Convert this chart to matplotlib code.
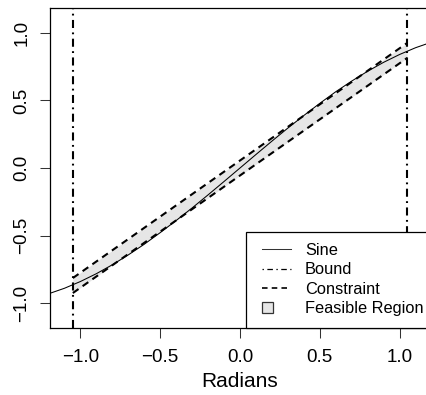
import matplotlib
matplotlib.use("Agg")
import matplotlib.pyplot as plt
from matplotlib.lines import Line2D
from matplotlib.patches import Rectangle
from matplotlib.legend_handler import HandlerPatch

# values
sine_x = [-1.2, -1.1, -1.0, -0.9, -0.8, -0.7, -0.6, -0.5, -0.4, -0.3, -0.2, -0.1, 0.0,
          0.1, 0.2, 0.3, 0.4, 0.5, 0.6, 0.7, 0.8, 0.9, 1.0, 1.1, 1.2]
sine_y = [-0.932, -0.891, -0.841, -0.783, -0.717, -0.644, -0.565, -0.479, -0.389, -0.296,
          -0.199, -0.100, 0.0, 0.100, 0.199, 0.296, 0.389, 0.479, 0.565, 0.644, 0.717,
          0.783, 0.841, 0.891, 0.932]
bounds = [-1.047, 1.047]
constraint_x = [-1.047, 1.047]
constraint_upper = [-0.815, 0.926]
constraint_lower = [-0.926, 0.815]
xticks = [-1.0, -0.5, 0.0, 0.5, 1.0]
yticks = [-1.0, -0.5, 0.0, 0.5, 1.0]
labels = ["Sine", "Bound", "Constraint", "Feasible Region"]

plt.rcParams["font.family"] = ["Liberation Sans", "DejaVu Sans"]
plt.rcParams["lines.scale_dashes"] = False

W, H = 426, 395
fig = plt.figure(figsize=(W / 100, H / 100), dpi=100)
# R-style plot region; the right edge runs slightly off the picture
L, R, T, B = 50, 430, 8, 328
ax = fig.add_axes([L / W, (H - B) / H, (R - L) / W, (B - T) / H])
ax.set_xlim(-1.19, 1.19)
ax.set_ylim(-1.185, 1.185)

FILL = "#e6e6e6"
ax.fill_between(constraint_x, constraint_lower, constraint_upper, color=FILL, lw=0, zorder=1)
ax.plot(constraint_x, constraint_upper, color="black", lw=1.5, ls=(0, (5, 3.6)), zorder=2)
ax.plot(constraint_x, constraint_lower, color="black", lw=1.5, ls=(0, (5, 3.6)), zorder=2)
for b in bounds:
    ax.axvline(b, color="black", lw=1.5, ls=(0, (5.8, 3.2, 1.3, 3.2)), zorder=2)
ax.plot(sine_x, sine_y, color="black", lw=0.75, zorder=3)

ax.set_xticks(xticks)
ax.set_xticklabels([f"{v:.1f}".replace("-", "\u2212") for v in xticks])
ax.set_yticks(yticks)
ax.set_yticklabels([f"{v:.1f}".replace("-", "\u2212") for v in yticks],
                   rotation=90, va="center")
ax.tick_params(direction="out", length=7.2, width=0.75, labelsize=13.5, color="#333333")
ax.tick_params(axis="x", pad=8)
ax.tick_params(axis="y", pad=7)
for s in ax.spines.values():
    s.set_linewidth(0.9)
ax.set_xlabel("Radians", fontsize=15, labelpad=4)

# legend box (R bottomright style), frame drawn by hand so the insets match
LL, LT = 246, 232
ax.add_patch(Rectangle(((LL - L) / (R - L), 0), 1.0, (B - LT) / (B - T),
                       transform=ax.transAxes, facecolor="white", edgecolor="black",
                       lw=0.9, zorder=4, clip_on=False))


def small_box(legend, orig_handle, xdescent, ydescent, width, height, fontsize):
    side = 11 * 0.72
    return Rectangle((-xdescent, -ydescent + (height - side) / 2), side, side)


handles = [
    Line2D([], [], color="#333333", lw=0.75),
    Line2D([], [], color="black", lw=0.9, ls=(0, (1, 2.5, 4, 2.5))),
    Line2D([], [], color="black", lw=1.2, ls=(0, (4, 3))),
    Rectangle((0, 0), 1, 1, facecolor=FILL, edgecolor="#333333", lw=0.9),
]
leg = ax.legend(handles, labels, loc="upper left",
                bbox_to_anchor=(262 / W, (H - 243) / H), bbox_transform=fig.transFigure,
                borderaxespad=0, borderpad=0, fontsize=11.8, frameon=False,
                handlelength=1.77, handletextpad=0.85, labelspacing=0.27,
                handler_map={Rectangle: HandlerPatch(patch_func=small_box)})
leg.set_zorder(5)

fig.savefig("out.png", dpi=100)
